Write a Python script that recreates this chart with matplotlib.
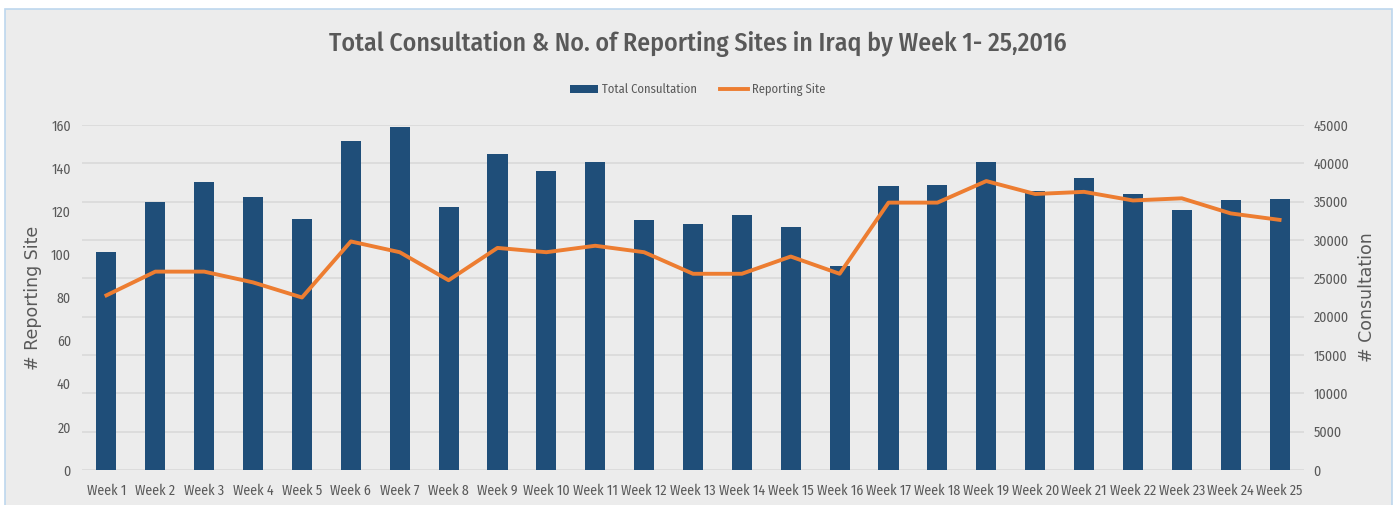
import numpy as np
import matplotlib.pyplot as plt
from matplotlib.patches import Rectangle

weeks = ["Week %d" % i for i in range(1, 26)]
consultation = [28390, 35000, 37610, 35650, 32740, 42950, 44690, 34260, 41210,
                38950, 40170, 32560, 32040, 33220, 31650, 26650, 37040, 37220,
                40170, 36350, 38130, 36000, 33950, 35180, 35310]
reporting_site = [81, 92, 92, 87, 80, 106, 101, 88, 103, 101, 104, 101, 91,
                  91, 99, 91, 124, 124, 134, 128, 129, 125, 126, 119, 116]

bar_col = "#1f4e79"
line_col = "#ed7d31"
txt_col = "#595959"
bg = "#ececec"

plt.rcParams['font.family'] = ['Fira Sans Condensed', 'DejaVu Sans']

fig = plt.figure(figsize=(13.95, 5.05), dpi=100)
fig.patch.set_facecolor("white")
# grey chart area with a thin light blue border
fig.patches.append(Rectangle((5/1395, -0.01), 1387/1395, 1.01 - 9/505, transform=fig.transFigure,
                             facecolor=bg, edgecolor="#bdd7ee", linewidth=1.2, zorder=-10))

ax = fig.add_axes([82/1395, 1 - 470/505, 1222/1395, 345/505])
ax2 = ax.twinx()
x = np.arange(len(weeks))

# bars belong to the right axis, line to the left one
ax2.bar(x, consultation, width=0.41, color=bar_col, zorder=2, label="Total Consultation")
ax.plot(x, reporting_site, color=line_col, lw=2.8, zorder=3, label="Reporting Site")
ax.set_zorder(ax2.get_zorder() + 1)
ax.patch.set_visible(False)
ax2.patch.set_visible(False)

ax.set_xlim(-0.5, 24.5)
ax.set_ylim(0, 160)
ax2.set_ylim(0, 45000)
ax.set_yticks(np.arange(0, 161, 20))
ax2.set_yticks(np.arange(0, 45001, 5000))
ax.set_xticks(x)
ax.set_xticklabels(weeks)

for a in (ax, ax2):
    for s in a.spines.values():
        s.set_visible(False)
    a.tick_params(length=0, colors=txt_col, labelsize=10)
ax.tick_params(axis='y', pad=8)
ax2.tick_params(axis='y', pad=7)
ax.tick_params(axis='x', pad=10)

ax2.yaxis.grid(True, color="#d9d9d9", lw=1.2, zorder=0)
ax2.set_axisbelow(True)

ax.set_ylabel("# Reporting Site", fontsize=12.5, color=txt_col, family="DejaVu Sans")
ax.yaxis.set_label_coords(-0.033, 0.5)
ax2.set_ylabel("# Consultation", fontsize=12.5, color=txt_col, family="DejaVu Sans", rotation=90)
ax2.yaxis.set_label_coords(1.044, 0.5)

fig.text(0.5, 1 - 44/505, "Total Consultation & No. of Reporting Sites in Iraq by Week 1- 25,2016",
         ha="center", va="center", fontsize=18.5, fontweight="medium", color=txt_col)

h1, l1 = ax2.get_legend_handles_labels()
h2, l2 = ax.get_legend_handles_labels()
fig.legend(h1 + h2, l1 + l2, loc="center", bbox_to_anchor=(0.5, 1 - 90/505), ncol=2,
           frameon=False, fontsize=9, labelcolor=txt_col, handlelength=2.3,
           handletextpad=0.3, columnspacing=1.8)

fig.savefig("out.png", dpi=100, facecolor=fig.get_facecolor())
